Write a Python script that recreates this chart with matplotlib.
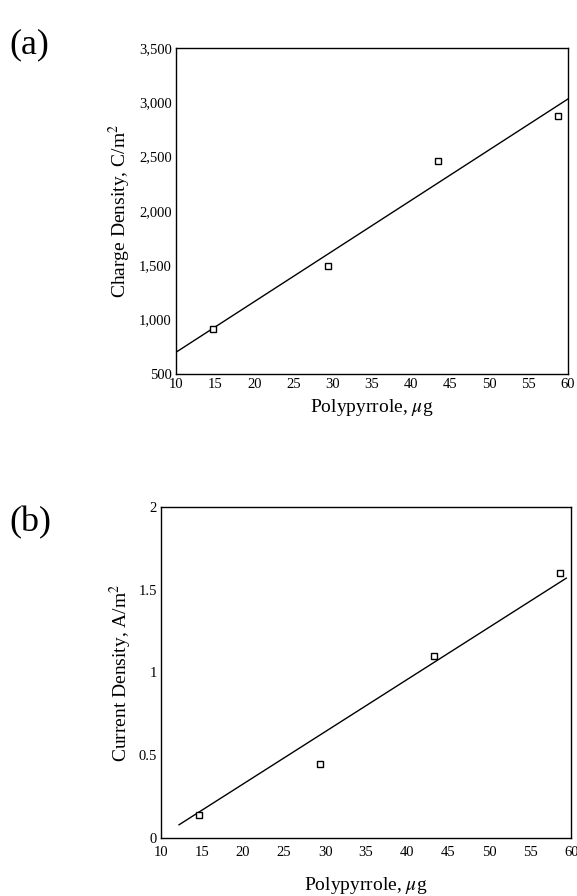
import numpy as np
import matplotlib.pyplot as plt
from matplotlib.ticker import FuncFormatter

plt.rcParams['font.family'] = ['Liberation Serif', 'DejaVu Serif']
plt.rcParams['mathtext.fontset'] = 'stix'

# (a) charge density vs polypyrrole mass
mass_a = [14.7, 29.4, 43.4, 58.7]
charge = [917, 1494, 2457, 2871]
fit_a_x = [10, 60]
fit_a_y = [700, 3030]

# (b) current density vs polypyrrole mass
mass_b = [14.6, 29.4, 43.3, 58.6]
current = [0.14, 0.45, 1.10, 1.60]
fit_b_x = [12.2, 59.4]
fit_b_y = [0.08, 1.57]

xticks = [10, 15, 20, 25, 30, 35, 40, 45, 50, 55, 60]

fig = plt.figure(figsize=(5.77, 8.96), dpi=100)
ax1 = fig.add_axes([0.305, 0.5826, 0.679, 0.3638])
ax2 = fig.add_axes([0.279, 0.0647, 0.711, 0.3695])


def style(ax):
    for s in ax.spines.values():
        s.set_linewidth(1.0)
    ax.tick_params(length=0, labelsize=10.5, pad=3)
    ax.set_xticks(xticks)
    ax.set_xlim(10, 60)


ax1.plot(fit_a_x, fit_a_y, color='black', lw=1.0)
ax1.plot(mass_a, charge, 's', mfc='white', mec='black', ms=4, mew=1.0)
style(ax1)
ax1.set_ylim(500, 3500)
ax1.set_yticks([500, 1000, 1500, 2000, 2500, 3000, 3500])
ax1.yaxis.set_major_formatter(FuncFormatter(lambda v, p: f'{int(v):,}'))
ax1.set_xlabel(r'Polypyrrole, $\mu$g', fontsize=14, labelpad=4)
ax1.set_ylabel(r'Charge Density, C/m$^2$', fontsize=14, labelpad=4)

ax2.plot(fit_b_x, fit_b_y, color='black', lw=1.0)
ax2.plot(mass_b, current, 's', mfc='white', mec='black', ms=4, mew=1.0)
style(ax2)
ax2.tick_params(axis='x', pad=6)
ax2.set_ylim(0, 2)
ax2.set_yticks([0, 0.5, 1, 1.5, 2])
ax2.yaxis.set_major_formatter(FuncFormatter(lambda v, p: f'{v:g}'))
ax2.set_xlabel(r'Polypyrrole, $\mu$g', fontsize=14, labelpad=11)
ax2.set_ylabel(r'Current Density, A/m$^2$', fontsize=14, labelpad=3)

fig.text(0.017, 0.95, '(a)', fontsize=26, va='center', ha='left')
fig.text(0.017, 0.417, '(b)', fontsize=26, va='center', ha='left')

fig.savefig('out.png', dpi=100)
